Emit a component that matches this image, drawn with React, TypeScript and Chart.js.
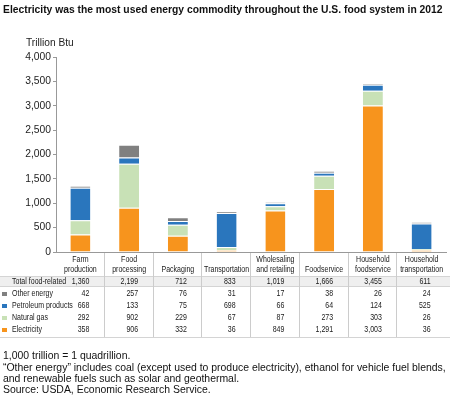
import React, { useEffect, useRef } from "react";
import { Chart, registerables } from "chart.js";

Chart.register(...registerables);

const TITLE = "Electricity was the most used energy commodity throughout the U.S. food system in 2012";
const UNIT_LABEL = "Trillion Btu";
const CATEGORIES = [
  ["Farm", "production"],
  ["Food", "processing"],
  ["Packaging"],
  ["Transportation"],
  ["Wholesaling", "and retailing"],
  ["Foodservice"],
  ["Household", "foodservice"],
  ["Household", "transportation"],
];
const TOTAL = [1360, 2199, 712, 833, 1019, 1666, 3455, 611];
const OTHER_ENERGY = [42, 257, 76, 31, 17, 38, 26, 24];
const PETROLEUM = [668, 133, 75, 698, 66, 64, 124, 525];
const NATURAL_GAS = [292, 902, 229, 67, 87, 273, 303, 26];
const ELECTRICITY = [358, 906, 332, 36, 849, 1291, 3003, 36];
const Y_TICKS = [0, 500, 1000, 1500, 2000, 2500, 3000, 3500, 4000];
const FOOTNOTES = [
  "1,000 trillion = 1 quadrillion.",
  "\u201COther energy\u201D includes coal (except used to produce electricity), ethanol for vehicle fuel blends,",
  "and renewable fuels such as solar and geothermal.",
  "Source: USDA, Economic Research Service.",
];

const COLORS = {
  electricity: "#f7941d",
  gas: "#c8e1b6",
  petroleum: "#2a76bd",
  other: "#808080",
};

const fmt = (v: number) => v.toLocaleString("en-US");

const SANS = "'Liberation Sans', Arial, Helvetica, sans-serif";

function narrowText(ctx: any, text: string, x: number, y: number, align: string) {
  ctx.save();
  ctx.translate(x, y);
  ctx.scale(0.78, 1);
  ctx.textAlign = align;
  ctx.fillText(text, 0, 0);
  ctx.restore();
}

function fitText(ctx: any, text: string, x: number, y: number, weight: string, baseSize: number, targetW: number) {
  ctx.font = weight + " " + baseSize + "px " + SANS;
  const w = ctx.measureText(text).width;
  const size = (baseSize * targetW) / w;
  ctx.font = weight + " " + size.toFixed(2) + "px " + SANS;
  ctx.textAlign = "left";
  ctx.fillText(text, x, y);
}

const tablePlugin = {
  id: "tablePlugin",
  afterDraw(chart: any) {
    const ctx = chart.ctx;
    const xs = chart.scales.x;
    const area = chart.chartArea;
    const n = CATEGORIES.length;
    const catW = (area.right - area.left) / n;
    ctx.save();

    // title
    ctx.fillStyle = "#111";
    ctx.textBaseline = "middle";
    fitText(ctx, TITLE, 3, 10, "bold", 11, 440);

    // unit label
    ctx.font = "10.2px " + SANS;
    ctx.fillStyle = "#222";
    ctx.textAlign = "left";
    ctx.fillText(UNIT_LABEL, 26, 43);

    // total row band
    const bandTop = 276;
    const bandBot = 287;
    ctx.fillStyle = "#efefef";
    ctx.fillRect(0, bandTop, 450, bandBot - bandTop);
    ctx.strokeStyle = "#d4d4d4";
    ctx.lineWidth = 1;
    ctx.beginPath();
    ctx.moveTo(0, bandTop + 0.5);
    ctx.lineTo(450, bandTop + 0.5);
    ctx.moveTo(0, bandBot - 0.5);
    ctx.lineTo(450, bandBot - 0.5);
    ctx.moveTo(0, 337.5);
    ctx.lineTo(450, 337.5);
    ctx.stroke();

    // separators
    ctx.strokeStyle = "#cccccc";
    ctx.beginPath();
    for (let i = 1; i < n; i++) {
      const x = Math.round(area.left + catW * i) - 0.5;
      ctx.moveTo(x, area.bottom + 1);
      ctx.lineTo(x, 337);
    }
    ctx.stroke();

    // header labels
    ctx.font = "9px " + SANS;
    ctx.fillStyle = "#1a1a1a";
    CATEGORIES.forEach((lines, i) => {
      const cx = xs.getPixelForValue(i);
      if (lines.length === 2) {
        narrowText(ctx, lines[0], cx, 260, "center");
        narrowText(ctx, lines[1], cx, 269.5, "center");
      } else {
        narrowText(ctx, lines[0], cx, 269.5, "center");
      }
    });

    // rows
    const rows = [
      { label: "Total food-related", values: TOTAL, color: null as string | null, y: 281.5 },
      { label: "Other energy", values: OTHER_ENERGY, color: COLORS.other, y: 294 },
      { label: "Petroleum products", values: PETROLEUM, color: COLORS.petroleum, y: 306 },
      { label: "Natural gas", values: NATURAL_GAS, color: COLORS.gas, y: 318 },
      { label: "Electricity", values: ELECTRICITY, color: COLORS.electricity, y: 330 },
    ];
    rows.forEach((r) => {
      if (r.color) {
        ctx.fillStyle = r.color;
        ctx.fillRect(2, Math.round(r.y) - 2, 5, 4);
      }
      ctx.fillStyle = "#1a1a1a";
      narrowText(ctx, r.label, 12, r.y, "left");
      r.values.forEach((v, i) => {
        const cx = xs.getPixelForValue(i);
        narrowText(ctx, fmt(v), cx + 9, r.y, "right");
      });
    });

    // footnotes
    ctx.font = "10.45px " + SANS;
    ctx.fillStyle = "#111";
    ctx.textAlign = "left";
    const fy = [356.5, 368, 379, 390];
    FOOTNOTES.forEach((t, i) => ctx.fillText(t, 3, fy[i]));

    ctx.restore();
  },
};

export default function App() {
  const ref = useRef<HTMLCanvasElement | null>(null);
  useEffect(() => {
    if (!ref.current) return;
    const labels = CATEGORIES.map((c) => c.join(" "));
    const ds = (label: string, data: number[], color: string) => ({
      label,
      data,
      backgroundColor: color,
      borderColor: "rgba(255,255,255,0.5)",
      borderWidth: { top: 1 },
      borderSkipped: "bottom",
      barPercentage: 0.41,
      categoryPercentage: 1,
    });
    const chart = new Chart(ref.current, {
      type: "bar",
      data: {
        labels,
        datasets: [
          ds("Electricity", ELECTRICITY, COLORS.electricity),
          ds("Natural gas", NATURAL_GAS, COLORS.gas),
          ds("Petroleum products", PETROLEUM, COLORS.petroleum),
          ds("Other energy", OTHER_ENERGY, COLORS.other),
        ],
      },
      options: {
        responsive: false,
        animation: false,
        devicePixelRatio: 1,
        layout: { padding: { top: 57, right: 4, bottom: 0, left: 0 } },
        plugins: { legend: { display: false }, tooltip: { enabled: false }, title: { display: false } },
        scales: {
          x: {
            stacked: true,
            grid: { display: false },
            ticks: { display: false },
            border: { display: true, color: "#999" },
            afterFit: (s: any) => {
              s.height = 152;
            },
          },
          y: {
            stacked: true,
            min: 0,
            max: 4000,
            afterBuildTicks: (s: any) => {
              s.ticks = Y_TICKS.map((v) => ({ value: v }));
            },
            ticks: {
              color: "#222",
              font: { size: 10.3, family: SANS },
              padding: 2,
              callback: (v: any) => fmt(Number(v)),
            },
            grid: { display: true, drawOnChartArea: false, drawTicks: true, tickLength: 3, color: "#999" },
            border: { display: true, color: "#999" },
            afterFit: (s: any) => {
              s.width = 56;
            },
          },
        },
      },
      plugins: [tablePlugin],
    } as any);
    return () => chart.destroy();
  }, []);
  return (
    <div style={{ position: "absolute", left: 0, top: 0, width: 450, height: 404 }}>
      <canvas ref={ref} width={450} height={404} />
    </div>
  );
}
